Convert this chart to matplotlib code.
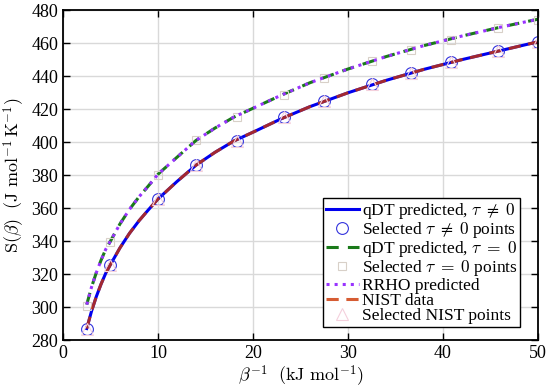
import numpy as np
import matplotlib
matplotlib.use("Agg")
import matplotlib.pyplot as plt

plt.rcParams['font.family'] = ['Liberation Serif', 'DejaVu Serif']
plt.rcParams['mathtext.fontset'] = 'cm'

## Curves (beta^-1 in kJ/mol, S in J/mol/K)
x_curve = [2.5, 3, 3.5, 4, 4.5, 5, 6, 7, 8, 9, 10, 12, 14, 16, 18, 20, 23, 26, 30, 34, 38, 42, 46, 50]
s_qdt = [287, 297.4, 306.2, 313.8, 320.5, 325.8, 335.9, 344.7, 352.3, 359, 365.5, 376.1, 386, 393.8,
         400.7, 406, 414.2, 421.5, 429.9, 437.4, 444.1, 450, 455.4, 460.8]
s_nist = s_qdt
s_rrho = [301.5, 312, 320.7, 328.3, 335, 340, 350.4, 359.2, 366.8, 373.5, 380.5, 390.8, 401, 408.5,
          415.2, 420.5, 428.5, 436, 444.3, 451.8, 458.5, 464.3, 469.6, 474.5]
s_tau0 = s_rrho

## Selected points
x_sel = [2.5, 5, 10, 14, 18.3, 23.3, 27.5, 32.5, 36.6, 40.8, 45.8, 50]
s_sel = [286.8, 325.5, 365.3, 386, 400.9, 415.3, 424.8, 435, 442, 448.7, 455.3, 460.8]
s_sel0 = [300.4, 339.6, 380.3, 401.2, 415.3, 428.5, 438.6, 449, 455.8, 462.2, 468.9, 474.3]
s_selnist = s_sel

fig = plt.figure(figsize=(5.5, 3.9), dpi=100)
ax = fig.add_axes([0.1145, 0.128, 0.8635, 0.846])

ax.plot(x_curve, s_qdt, color="#0000ee", lw=2.2, label=r"qDT predicted, $\tau\;\neq\;0$")
ax.plot(x_sel, s_sel, "o", ms=8.5, mfc="none", mec="#3333dd", mew=0.8,
        label=r"Selected $\tau\;\neq\;0$ points")
ax.plot(x_curve, s_tau0, "--", color="#1a7a1a", lw=2.2, dashes=(4, 3),
        label=r"qDT predicted, $\tau\;=\;0$")
ax.plot(x_sel, s_sel0, "s", ms=6, mfc="none", mec="#d8d0c8", mew=0.8,
        label=r"Selected $\tau\;=\;0$ points")
ax.plot(x_curve, s_rrho, ":", color="#9933ff", lw=2.2, label="RRHO predicted")
ax.plot(x_curve, s_nist, "--", color="#cc3300", lw=2.2, dashes=(4, 2.5), alpha=0.8,
        label="NIST data")
ax.plot(x_sel, s_selnist, "^", ms=8, mfc="none", mec="#f4d0dc", mew=0.8,
        label="Selected NIST points")

ax.set_xlim(0, 50)
ax.set_ylim(280, 480)
ax.set_xticks(np.arange(0, 51, 10))
ax.set_yticks(np.arange(280, 481, 20))
ax.grid(True, color="#d9d9d9", lw=1)
ax.set_axisbelow(True)
ax.tick_params(direction="in", top=True, right=True, labelsize=13, length=5, width=1)
for sp in ax.spines.values():
    sp.set_linewidth(1.3)

ax.set_xlabel(r"$\beta^{-1}\ \ (\mathrm{kJ\ mol}^{-1})$", fontsize=13, labelpad=1)
ax.set_ylabel(r"$\mathrm{S}(\beta)\ \ (\mathrm{J\ mol}^{-1}\,\mathrm{K}^{-1})$", fontsize=13, labelpad=3)

leg = ax.legend(loc="lower right", bbox_to_anchor=(0.963, 0.04), fontsize=12.5, frameon=True,
                fancybox=False, edgecolor="black", framealpha=1, borderpad=0.15,
                labelspacing=-0.05, handlelength=1.9, handletextpad=0.2, borderaxespad=0)
leg.get_frame().set_linewidth(1)

plt.savefig("out.png", dpi=100)
